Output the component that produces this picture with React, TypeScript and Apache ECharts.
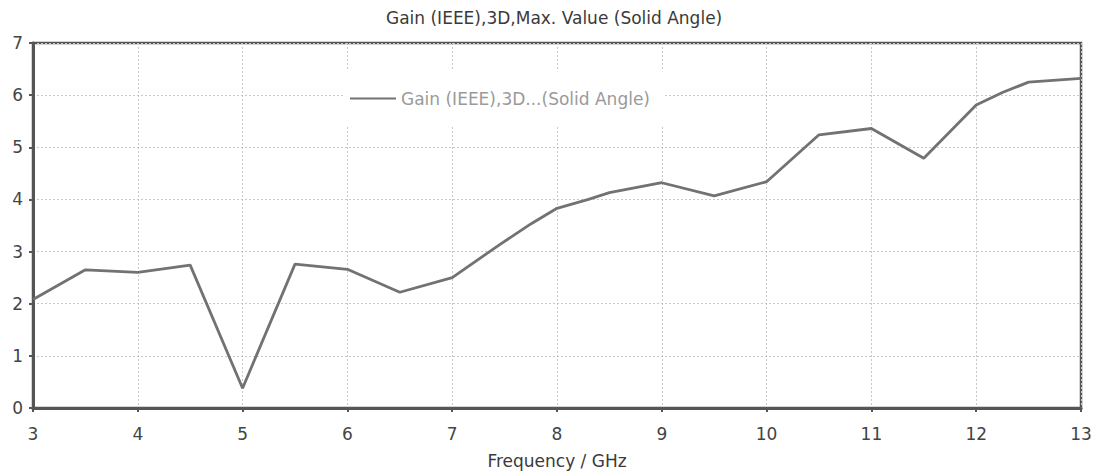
import React, { useEffect, useRef } from "react";
import * as echarts from "echarts";

const titleText = "Gain (IEEE),3D,Max. Value (Solid Angle)";
const seriesName = "Gain (IEEE),3D...(Solid Angle)";
const xAxisName = "Frequency / GHz";
const freqs = [3, 3.5, 3.8, 4, 4.5, 5, 5.5, 6, 6.5, 7, 7.45, 7.75, 8, 8.3, 8.5, 9, 9.5, 10, 10.5, 11, 11.5, 12, 12.25, 12.5, 13];
const gains = [2.08, 2.65, 2.62, 2.6, 2.74, 0.38, 2.76, 2.66, 2.22, 2.5, 3.13, 3.53, 3.83, 4.0, 4.13, 4.32, 4.07, 4.34, 5.24, 5.36, 4.79, 5.81, 6.05, 6.25, 6.32];

export default function App() {
  const ref = useRef<HTMLDivElement>(null);
  useEffect(() => {
    if (!ref.current) return;
    const chart = echarts.init(ref.current, null, { renderer: "svg" });
    const font = "DejaVu Sans";
    chart.setOption({
      animation: false,
      backgroundColor: "#ffffff",
      title: {
        text: titleText,
        left: 386,
        top: 9,
        padding: 0,
        textStyle: { fontFamily: font, fontSize: 17, fontWeight: "normal", color: "#3a3a3a" },
      },
      legend: {
        left: 345,
        top: 70,
        backgroundColor: "#ffffff",
        padding: [20, 13, 20, 5],
        itemWidth: 46,
        itemHeight: 17,
        itemGap: 8,
        icon: "path://M0,7.5 L46,7.5 L46,9.5 L0,9.5 Z",
        textStyle: { fontFamily: font, fontSize: 17, color: "#9a9a9a" },
        data: [seriesName],
      },
      grid: {
        left: 33,
        right: 15,
        top: 43,
        bottom: 64,
        outerBoundsMode: "none",
        containLabel: false,
        show: true,
        borderColor: "#555555",
        borderWidth: 2.5,
        z: 0,
      },
      xAxis: {
        type: "value",
        min: 3,
        max: 13,
        interval: 1,
        name: xAxisName,
        nameLocation: "middle",
        nameGap: 44,
        nameTextStyle: { fontFamily: font, fontSize: 17, color: "#3a3a3a" },
        axisLine: { show: true, lineStyle: { color: "#555555", width: 3 } },
        axisTick: { show: true, length: 4, lineStyle: { color: "#555555", width: 2 } },
        axisLabel: { fontFamily: font, fontSize: 17, color: "#444444", margin: 17 },
        splitLine: { show: true, lineStyle: { color: "#c8c8c8", type: [2, 2], width: 1 } },
      },
      yAxis: {
        type: "value",
        min: 0,
        max: 7,
        interval: 1,
        axisLine: { show: true, lineStyle: { color: "#555555", width: 3 } },
        axisTick: { show: true, length: 4, lineStyle: { color: "#555555", width: 2 } },
        axisLabel: { fontFamily: font, fontSize: 17, color: "#444444", margin: 10 },
        splitLine: { show: true, lineStyle: { color: "#c8c8c8", type: [2, 2], width: 1 } },
      },
      series: [
        {
          name: seriesName,
          type: "line",
          data: freqs.map((f, i) => [f, gains[i]]),
          showSymbol: false,
          lineStyle: { color: "#727272", width: 2.8 },
          itemStyle: { color: "#727272" },
        },
      ],
    });
    return () => chart.dispose();
  }, []);
  return (
    <div
      ref={ref}
      style={{ position: "fixed", left: 0, top: 0, width: 1096, height: 472 }}
    />
  );
}
